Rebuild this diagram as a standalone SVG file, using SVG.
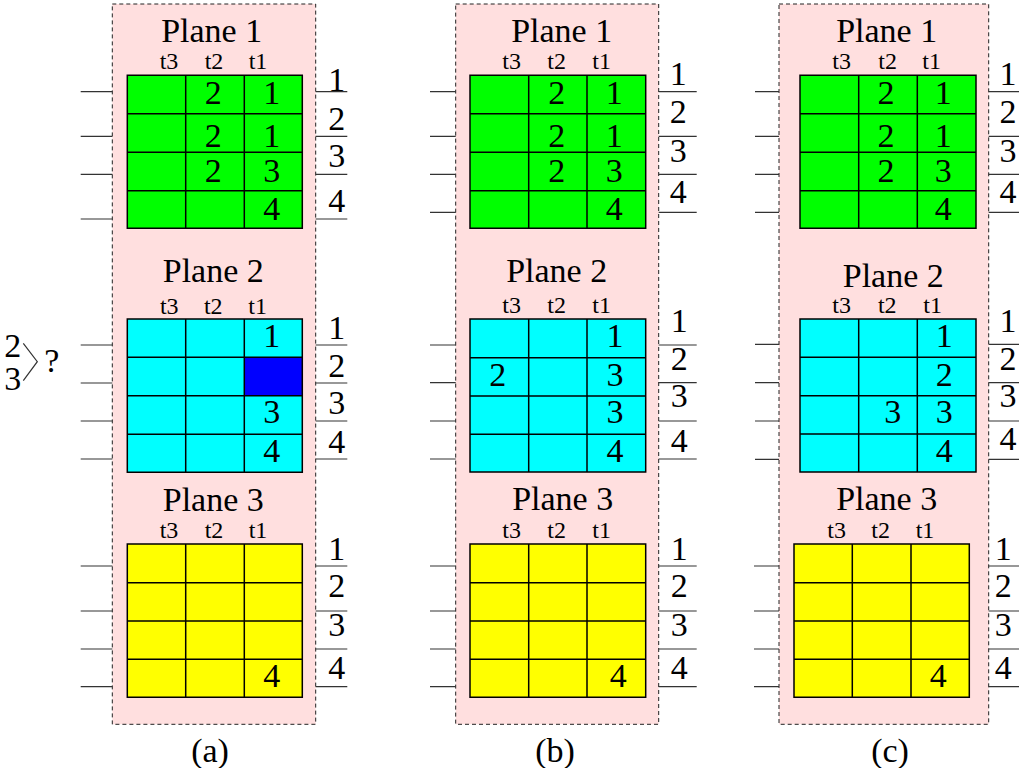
<svg xmlns="http://www.w3.org/2000/svg" width="1019" height="768" viewBox="0 0 1019 768">
<style>
text{font-family:"Liberation Serif","Times New Roman",serif;fill:#000;text-anchor:middle}
.big{font-size:34px}
.t{font-size:24px}
.box{fill:#ffdfdf;stroke:#222;stroke-width:1;stroke-dasharray:4 3}
.g{fill:#00ff00}
.c{fill:#00ffff}
.y{fill:#ffff00}
.b{fill:#0000ff}
.grid{fill:none;stroke:#000;stroke-width:1.5}
.tick{stroke:#333;stroke-width:1.2;fill:none}
</style>
<rect width="1019" height="768" fill="#fff"/>
<!-- backgrounds -->
<g id="panel-a-box"><rect class="box" x="112.3" y="4" width="203.4" height="720.3"/></g>
<g id="panel-b-box"><rect class="box" x="455.7" y="4" width="203" height="720.3"/></g>
<g id="panel-c-box"><rect class="box" x="779" y="4" width="209.7" height="720.3"/></g>

<g id="connectors">
<path class="tick" d="M80.7 91.7H112.3M80.7 136.3H112.3M80.7 174.3H112.3M80.7 219H112.3M315.7 91.7H347.3M315.7 136.3H347.3M315.7 174.3H347.3M315.7 219H347.3"/>
<path class="tick" d="M80.7 345H112.3M80.7 383H112.3M80.7 421H112.3M80.7 459H112.3M315.7 345H347.3M315.7 383H347.3M315.7 421H347.3M315.7 459H347.3"/>
<path class="tick" d="M80.7 566H112.3M80.7 611H112.3M80.7 649H112.3M80.7 686.7H112.3M315.7 566H347.3M315.7 611H347.3M315.7 649H347.3M315.7 686.7H347.3"/>
<path class="tick" d="M430 91.7H455.7M430 136.3H455.7M430 174.3H455.7M430 212.3H455.7M658.7 91.7H696.7M658.7 136.3H696.7M658.7 174.3H696.7M658.7 212.3H696.7"/>
<path class="tick" d="M430 345H455.7M430 382.7H455.7M430 421H455.7M430 459H455.7M658.7 345H696.7M658.7 382.7H696.7M658.7 421H696.7M658.7 459H696.7"/>
<path class="tick" d="M430 566H455.7M430 611H455.7M430 649H455.7M430 686.7H455.7M658.7 566H696.7M658.7 611H696.7M658.7 649H696.7M658.7 686.7H696.7"/>
<path class="tick" d="M755 91.7H779M755 136.3H779M755 174.3H779M755 212.3H779M988.7 91.7H1019M988.7 136.3H1019M988.7 174.3H1019M988.7 212.3H1019"/>
<path class="tick" d="M755 344.3H779M755 382.7H779M755 421H779M755 459.3H779M988.7 344.3H1019M988.7 382.7H1019M988.7 421H1019M988.7 459.3H1019"/>
<path class="tick" d="M754 566H779M754 611H779M754 649H779M754 686.7H779M988.7 566H1019M988.7 611H1019M988.7 649H1019M988.7 686.7H1019"/>
<polyline class="tick" points="23.3,343.3 37.3,361.7 23.3,380.7"/>
</g>

<!-- Panel (a) -->
<g id="a-plane1">
<rect class="g" x="127.3" y="75.3" width="175" height="153"/>
<path class="grid" d="M127.3 75.3H302.3V228.3H127.3ZM185.7 75.3V228.3M244.3 75.3V228.3M127.3 113.7H302.3M127.3 152.3H302.3M127.3 190.7H302.3"/>
<text class="big" x="211.7" y="41.7">Plane 1</text>
<text class="t" x="169" y="69.3">t3</text><text class="t" x="214" y="69.3">t2</text><text class="t" x="258" y="69.3">t1</text>
<text class="big" x="213.3" y="104">2</text><text class="big" x="271.7" y="104">1</text>
<text class="big" x="213.3" y="146.7">2</text><text class="big" x="271.7" y="146.7">1</text>
<text class="big" x="213.3" y="181.7">2</text><text class="big" x="271.7" y="181.7">3</text>
<text class="big" x="271.7" y="220">4</text>
<text class="big" x="336.7" y="91">1</text><text class="big" x="336.7" y="130">2</text><text class="big" x="336.7" y="167">3</text><text class="big" x="336.7" y="212">4</text>
</g>
<g id="a-plane2">
<rect class="c" x="127.3" y="319" width="175" height="153.3"/>
<rect class="b" x="244.3" y="357.3" width="58" height="38.4"/>
<path class="grid" d="M127.3 319H302.3V472.3H127.3ZM185.7 319V472.3M244.3 319V472.3M127.3 357.3H302.3M127.3 395.7H302.3M127.3 434.3H302.3"/>
<text class="big" x="213.3" y="281.7">Plane 2</text>
<text class="t" x="169.3" y="314">t3</text><text class="t" x="213.3" y="314">t2</text><text class="t" x="257.7" y="314">t1</text>
<text class="big" x="271.7" y="347.3">1</text>
<text class="big" x="271.7" y="423.3">3</text>
<text class="big" x="271.7" y="462.3">4</text>
<text class="big" x="336.7" y="339">1</text><text class="big" x="336.7" y="377.3">2</text><text class="big" x="336.7" y="414">3</text><text class="big" x="336.7" y="453.3">4</text>
</g>
<g id="a-plane3">
<rect class="y" x="127.3" y="544" width="175" height="153.3"/>
<path class="grid" d="M127.3 544H302.3V697.3H127.3ZM185.7 544V697.3M244.3 544V697.3M127.3 582.7H302.3M127.3 621H302.3M127.3 659.3H302.3"/>
<text class="big" x="213.3" y="510.7">Plane 3</text>
<text class="t" x="169" y="538.3">t3</text><text class="t" x="214" y="538.3">t2</text><text class="t" x="258" y="538.3">t1</text>
<text class="big" x="271.7" y="687.3">4</text>
<text class="big" x="336.7" y="560">1</text><text class="big" x="336.7" y="597.3">2</text><text class="big" x="336.7" y="635.7">3</text><text class="big" x="336.7" y="679.3">4</text>
</g>
<g id="a-question">
<text class="big" x="12.7" y="356.7">2</text>
<text class="big" x="12.7" y="390">3</text>
<text class="big" x="51.7" y="371.7">?</text>
</g>
<g id="label-a"><text class="big" x="210" y="762">(a)</text></g>

<!-- Panel (b) -->
<g id="b-plane1">
<rect class="g" x="470" y="75.3" width="175.7" height="153"/>
<path class="grid" d="M470 75.3H645.7V228.3H470ZM528.7 75.3V228.3M587 75.3V228.3M470 113.7H645.7M470 152.3H645.7M470 190.7H645.7"/>
<text class="big" x="561.7" y="41.7">Plane 1</text>
<text class="t" x="511.7" y="69.3">t3</text><text class="t" x="556.7" y="69.3">t2</text><text class="t" x="601.7" y="69.3">t1</text>
<text class="big" x="556.7" y="104">2</text><text class="big" x="614.3" y="104">1</text>
<text class="big" x="556.7" y="146.7">2</text><text class="big" x="614.3" y="146.7">1</text>
<text class="big" x="556.7" y="181.7">2</text><text class="big" x="614.3" y="181.7">3</text>
<text class="big" x="614.3" y="220">4</text>
<text class="big" x="678.3" y="85">1</text><text class="big" x="678.3" y="123.3">2</text><text class="big" x="678.3" y="161.7">3</text><text class="big" x="678.3" y="203.3">4</text>
</g>
<g id="b-plane2">
<rect class="c" x="470" y="319" width="175.7" height="153"/>
<path class="grid" d="M470 319H645.7V472H470ZM528.7 319V472M587 319V472M470 357.7H645.7M470 396H645.7M470 434.3H645.7"/>
<text class="big" x="556.7" y="282.3">Plane 2</text>
<text class="t" x="511.7" y="313.3">t3</text><text class="t" x="556.7" y="313.3">t2</text><text class="t" x="601.7" y="313.3">t1</text>
<text class="big" x="615" y="347.3">1</text>
<text class="big" x="497.7" y="385.7">2</text><text class="big" x="615" y="385.7">3</text>
<text class="big" x="615" y="423.3">3</text>
<text class="big" x="615" y="462.3">4</text>
<text class="big" x="679.3" y="331.7">1</text><text class="big" x="679.3" y="370">2</text><text class="big" x="679.3" y="407.3">3</text><text class="big" x="679.3" y="451.7">4</text>
</g>
<g id="b-plane3">
<rect class="y" x="470" y="544" width="175.7" height="153.3"/>
<path class="grid" d="M470 544H645.7V697.3H470ZM528.7 544V697.3M587 544V697.3M470 582.7H645.7M470 621H645.7M470 659.3H645.7"/>
<text class="big" x="562.7" y="510">Plane 3</text>
<text class="t" x="511.7" y="538.3">t3</text><text class="t" x="556.7" y="538.3">t2</text><text class="t" x="601.7" y="538.3">t1</text>
<text class="big" x="618.3" y="687.3">4</text>
<text class="big" x="679.3" y="560">1</text><text class="big" x="679.3" y="597.3">2</text><text class="big" x="679.3" y="635.7">3</text><text class="big" x="679.3" y="679.3">4</text>
</g>
<g id="label-b"><text class="big" x="555" y="762">(b)</text></g>

<!-- Panel (c) -->
<g id="c-plane1">
<rect class="g" x="800" y="75.3" width="176" height="153"/>
<path class="grid" d="M800 75.3H976V228.3H800ZM858.7 75.3V228.3M917.3 75.3V228.3M800 113.7H976M800 152.3H976M800 190.7H976"/>
<text class="big" x="886.7" y="41.7">Plane 1</text>
<text class="t" x="841.7" y="69.3">t3</text><text class="t" x="887.7" y="69.3">t2</text><text class="t" x="931.7" y="69.3">t1</text>
<text class="big" x="886" y="104">2</text><text class="big" x="943.3" y="104">1</text>
<text class="big" x="886" y="146.7">2</text><text class="big" x="943.3" y="146.7">1</text>
<text class="big" x="886" y="181.7">2</text><text class="big" x="943.3" y="181.7">3</text>
<text class="big" x="943.3" y="220">4</text>
<text class="big" x="1008" y="85">1</text><text class="big" x="1008" y="123.3">2</text><text class="big" x="1008" y="161.7">3</text><text class="big" x="1008" y="203.3">4</text>
</g>
<g id="c-plane2">
<rect class="c" x="800" y="319" width="176" height="153"/>
<path class="grid" d="M800 319H976V472H800ZM858.7 319V472M917.3 319V472M800 357.3H976M800 395.7H976M800 434H976"/>
<text class="big" x="893.3" y="287.3">Plane 2</text>
<text class="t" x="841.7" y="313.3">t3</text><text class="t" x="887.3" y="313.3">t2</text><text class="t" x="932.7" y="313.3">t1</text>
<text class="big" x="944.3" y="347.3">1</text>
<text class="big" x="944.3" y="385.7">2</text>
<text class="big" x="892.7" y="423.3">3</text><text class="big" x="944.3" y="423.3">3</text>
<text class="big" x="944.3" y="462.3">4</text>
<text class="big" x="1008" y="331.7">1</text><text class="big" x="1008" y="370">2</text><text class="big" x="1008" y="406.7">3</text><text class="big" x="1008" y="450">4</text>
</g>
<g id="c-plane3">
<rect class="y" x="794" y="544" width="175.3" height="153.3"/>
<path class="grid" d="M794 544H969.3V697.3H794ZM852.3 544V697.3M911 544V697.3M794 582.7H969.3M794 621H969.3M794 659.3H969.3"/>
<text class="big" x="886.7" y="510">Plane 3</text>
<text class="t" x="836.7" y="538.3">t3</text><text class="t" x="880.7" y="538.3">t2</text><text class="t" x="925" y="538.3">t1</text>
<text class="big" x="938.3" y="687.3">4</text>
<text class="big" x="1003.3" y="560">1</text><text class="big" x="1003.3" y="597.3">2</text><text class="big" x="1003.3" y="635.7">3</text><text class="big" x="1003.3" y="679.3">4</text>
</g>
<g id="label-c"><text class="big" x="890" y="762">(c)</text></g>
</svg>
